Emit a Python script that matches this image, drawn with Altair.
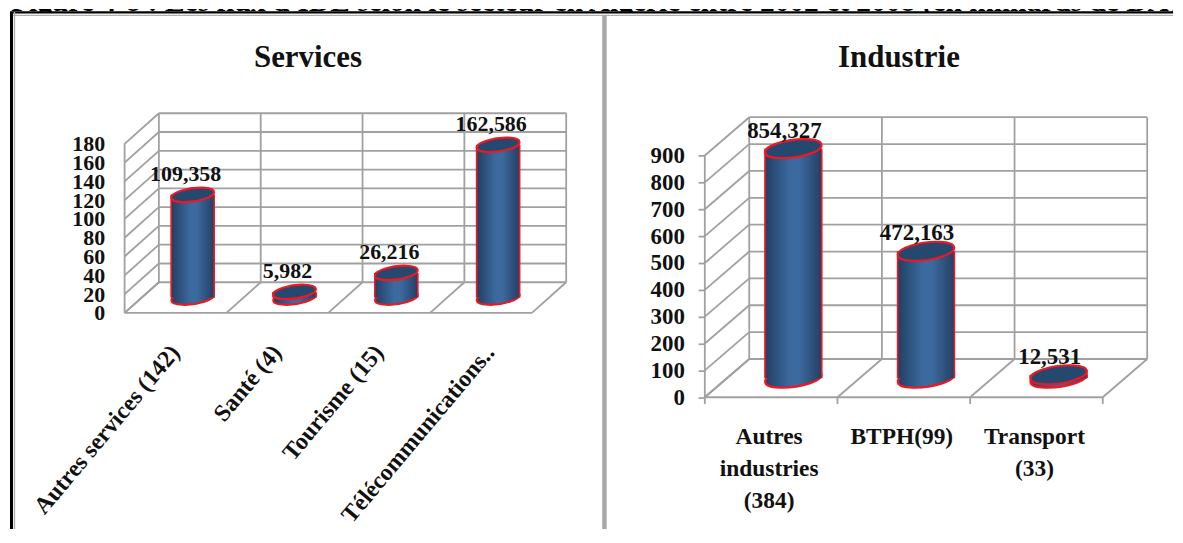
import altair as alt
import pandas as pd

CAPTION = "Figure 4-8 : Les flux d'IDE selon le secteur en Algérie entre 2002 et 2008 (en milliards de DA)."

S_TITLE = "Services"
S_CATS = ["Autres services (142)", "Santé (4)", "Tourisme (15)", "Télécommunications.."]
S_VALUES = [109.358, 5.982, 26.216, 162.586]
S_TEXTS = ["109,358", "5,982", "26,216", "162,586"]
S_TICKS = [0, 20, 40, 60, 80, 100, 120, 140, 160, 180]

I_TITLE = "Industrie"
I_CATS = ["Autres|industries|(384)", "BTPH(99)", "Transport|(33)"]
I_VALUES = [854.327, 472.163, 12.531]
I_TEXTS = ["854,327", "472,163", "12,531"]
I_TICKS = [0, 100, 200, 300, 400, 500, 600, 700, 800, 900]

FONT = "Liberation Serif"
GRID = "#a0a0a0"
RED = "#f01622"
TOP = "#25486f"
BODY = alt.Gradient(
    gradient="linear", x1=0, x2=1, y1=0, y2=0,
    stops=[alt.GradientStop(offset=0, color="#223f62"),
           alt.GradientStop(offset=0.45, color="#3c6a9f"),
           alt.GradientStop(offset=0.6, color="#3c6a9f"),
           alt.GradientStop(offset=1, color="#233f63")],
)
ELLIPSE = "M-0.99,0.139A1,0.3,-8,1,1,0.99,-0.139A1,0.3,-8,1,1,-0.99,0.139Z"
PANEL_H = 519
TOP_Y = 11  # page y of the panels' top edge


def panel(title, title_x, cats, values, texts, ticks, left, width, floor_l, floor_r,
          floor_y, wall_top_y, back_floor_y, depth_px, half_w_px, text_dx, text_dy,
          tick_size, label_pad, tick_font, label_font, rotated, frame_left):
    n = len(cats)
    unit_x = (floor_r - floor_l) / n
    span = ticks[-1]
    unit_y = (back_floor_y - wall_top_y) / span
    dx = depth_px / unit_x
    dy = (floor_y - back_floor_y) / unit_y
    hw = half_w_px / unit_x
    xs = alt.Scale(domain=[(left - floor_l) / unit_x, (left + width - floor_l) / unit_x], nice=False, zero=False)
    ys = alt.Scale(domain=[-(TOP_Y + PANEL_H - floor_y) / unit_y, (floor_y - TOP_Y) / unit_y], nice=False, zero=False)
    axis = alt.Axis(values=ticks, offset=-(floor_l - left), domain=False, grid=False,
                    ticks=bool(tick_size), tickSize=tick_size, tickColor=GRID, tickWidth=1.8,
                    labelPadding=label_pad, labelFont=FONT, labelFontSize=tick_font,
                    labelFontWeight="bold", labelColor="#111111", labelOverlap=False,
                    labelBound=False, labelFlush=False, title=None)

    def Y(field):
        return alt.Y(field, scale=ys, axis=axis, title=None)

    def segs(rows, color=GRID, sw=1.8):
        df = pd.DataFrame(rows, columns=["x", "y", "x2", "y2"])
        return alt.Chart(df).mark_rule(color=color, strokeWidth=sw).encode(
            x=alt.X("x:Q", scale=xs, axis=None), x2="x2:Q",
            y=Y("y:Q"), y2="y2:Q")

    grid = []
    for t in ticks:
        grid.append((0, t, dx, t + dy))                 # side wall
        grid.append((dx, t + dy, n + dx, t + dy))       # back wall
    for i in range(n + 1):
        grid.append((i + dx, dy, i + dx, span + dy))    # back verticals
        grid.append((i, 0, i + dx, dy))                 # floor dividers
    grid.append((0, 0, n, 0))
    grid.append((0, 0, 0, span))
    if tick_size:
        for i in range(n + 1):
            grid.append((i, 0, i, -tick_size / unit_y))

    layers = [segs(grid)]

    df = pd.DataFrame({
        "c": [i + 0.5 + dx / 2 for i in range(n)],
        "l": [i + 0.5 + dx / 2 - hw for i in range(n)],
        "r": [i + 0.5 + dx / 2 + hw for i in range(n)],
        "b": [dy / 2] * n,
        "t": [dy / 2 + v for v in values],
        "s": texts,
    })
    X = alt.X("c:Q", scale=xs, axis=None)
    size = (2 * half_w_px) ** 2
    layers.append(alt.Chart(df).mark_point(shape=ELLIPSE, size=size, filled=True, fill=BODY, stroke=RED,
                                           strokeWidth=2.2, opacity=1)
                  .encode(x=X, y=Y("b:Q")))
    layers.append(alt.Chart(df).mark_rect(fill=BODY).encode(
        x=alt.X("l:Q", scale=xs, axis=None), x2="r:Q",
        y=Y("b:Q"), y2="t:Q"))
    sides = []
    for i, v in enumerate(values):
        c = i + 0.5 + dx / 2
        sides.append((c - hw, dy / 2, c - hw, dy / 2 + v))
        sides.append((c + hw, dy / 2, c + hw, dy / 2 + v))
    layers.append(segs(sides, color=RED, sw=1.6))
    layers.append(alt.Chart(df).mark_point(shape=ELLIPSE, size=size, filled=True, fill=TOP, stroke=RED,
                                           strokeWidth=2.2, opacity=1)
                  .encode(x=X, y=Y("t:Q")))
    layers.append(alt.Chart(df).mark_text(font=FONT, fontSize=label_font, fontWeight="bold", color="#111111",
                                          dx=text_dx, dy=text_dy, baseline="middle")
                  .encode(x=X, y=Y("t:Q"), text="s:N"))

    cat_df = pd.DataFrame({"x": [i + 0.5 for i in range(n)], "s": cats})
    if rotated:
        cat_df["x"] = [i + 0.5 + (0.09 if i == n - 1 else 0) for i in range(n)]
        layers.append(alt.Chart(cat_df).mark_text(font=FONT, fontSize=24, fontWeight="bold", color="#111111",
                                                  angle=310, align="right", baseline="middle")
                      .encode(x=alt.X("x:Q", scale=xs, axis=None), y=alt.value(349 - TOP_Y), text="s:N"))
    else:
        layers.append(alt.Chart(cat_df).mark_text(font=FONT, fontSize=23.5, fontWeight="bold", color="#111111",
                                                  lineBreak="|", lineHeight=32, baseline="top", dx=-2)
                      .encode(x=alt.X("x:Q", scale=xs, axis=None), y=alt.value(426 - TOP_Y), text="s:N"))

    layers.append(alt.Chart(pd.DataFrame({"s": [title]})).mark_text(
        font=FONT, fontSize=31, fontWeight="bold", color="#111111", baseline="middle")
        .encode(x=alt.value(title_x - left), y=alt.value(57 - TOP_Y), text="s:N"))

    # page frame
    def frame(color, sw, **enc):
        return alt.Chart(pd.DataFrame({"a": [0]})).mark_rule(color=color, strokeWidth=sw).encode(**enc)

    layers.append(frame("#000000", 2.4, x=alt.value(0), x2=alt.value(width), y=alt.value(0.5)))
    layers.append(frame("#b0b0b0", 1.2, x=alt.value(0), x2=alt.value(width), y=alt.value(3.5)))
    if frame_left:
        layers.append(frame("#000000", 3, x=alt.value(1.5), y=alt.value(0), y2=alt.value(PANEL_H)))
        layers.append(frame("#b0b0b0", 1.4, x=alt.value(4.5), y=alt.value(0), y2=alt.value(PANEL_H)))
    else:
        layers.append(frame("#a8a8a8", 4.5, x=alt.value(4.5), y=alt.value(3), y2=alt.value(PANEL_H)))

    return alt.layer(*layers).properties(width=width, height=PANEL_H)


left_chart = panel(S_TITLE, 307, S_CATS, S_VALUES, S_TEXTS, S_TICKS,
                   left=8, width=592, floor_l=123.0, floor_r=531.7, floor_y=313.0,
                   wall_top_y=112.7, back_floor_y=282.3, depth_px=34.4, half_w_px=21.6,
                   text_dx=-7, text_dy=-21, tick_size=0, label_pad=20, tick_font=22,
                   label_font=22, rotated=True, frame_left=True)
right_chart = panel(I_TITLE, 900, I_CATS, I_VALUES, I_TEXTS, I_TICKS,
                    left=600, width=575, floor_l=705.2, floor_r=1104.5, floor_y=397.7,
                    wall_top_y=116.7, back_floor_y=359.3, depth_px=44.6, half_w_px=28.5,
                    text_dx=-9, text_dy=-18, tick_size=6.7, label_pad=13.8, tick_font=23,
                    label_font=23, rotated=False, frame_left=False)

caption = alt.Chart(pd.DataFrame({"s": [CAPTION]})).mark_text(
    font=FONT, fontSize=29.55, fontWeight="bold", color="#000000", align="left",
    baseline="alphabetic", clip=True
).encode(x=alt.value(1), y=alt.value(2), text="s:N").properties(width=1167, height=3)

chart = alt.vconcat(
    caption,
    alt.hconcat(left_chart, right_chart, spacing=0, bounds="flush"),
    spacing=0, bounds="flush",
).properties(padding=0, background="white").configure_view(stroke=None)

chart.save("out.html", embed_options={"renderer": "svg", "actions": False})
